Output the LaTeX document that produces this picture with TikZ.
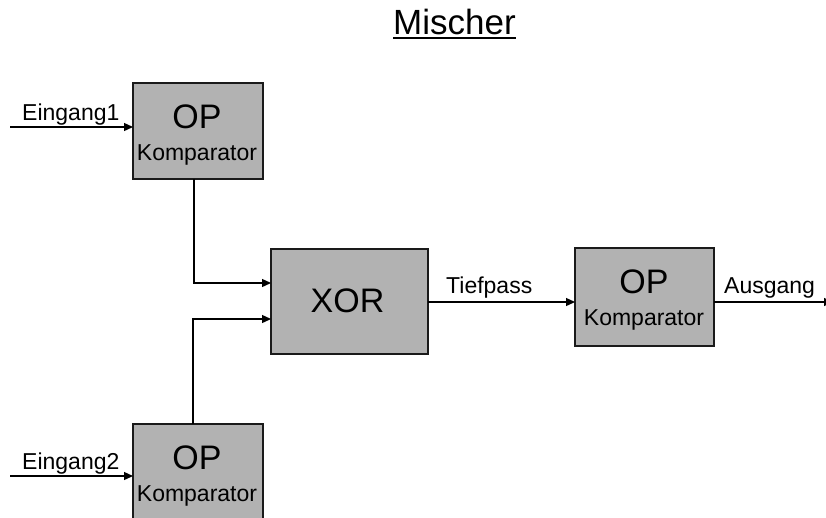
\documentclass[tikz,border=0pt]{standalone}
\usepackage{fontspec}
\setmainfont{Liberation Sans}
\usetikzlibrary{arrows.meta}
\definecolor{boxgray}{HTML}{B2B2B2}
\definecolor{edge}{HTML}{1A1A1A}
\begin{document}
\begin{tikzpicture}[x=1pt,y=-1pt,
  blk/.style={draw=edge, line width=1.6pt, fill=boxgray, inner sep=0pt, outer sep=0pt},
  big/.style={font=\fontsize{34}{36}\selectfont, inner sep=0pt, anchor=base},
  small/.style={font=\fontsize{23}{25}\selectfont, inner sep=0pt, anchor=base},
  arr/.style={line width=1.3pt, draw=black, -{Triangle[length=9pt,width=8pt]}},
  ttl/.style={font=\fontsize{35}{38}\selectfont, inner sep=0pt, anchor=base}]
\useasboundingbox (0,0) rectangle (826,517);
\clip (0,0) rectangle (826,517);
\fill[white] (0,0) rectangle (826,517);

% title
\node[ttl] (title) at (454.5,34) {Mischer};
\draw[line width=2pt] ([yshift=-4pt]title.base west) -- ([yshift=-4pt]title.base east);

% boxes
\node[blk, minimum width=130pt, minimum height=96pt] (op1) at (198,131) {};
\node[blk, minimum width=157pt, minimum height=105pt] (xor) at (349.5,301.5) {};
\node[blk, minimum width=139pt, minimum height=98pt] (op4) at (644.5,297) {};
\node[blk, minimum width=130pt, minimum height=96pt] (op2) at (198,472) {};

% box texts
\node[big] (op1a) at (197,128) {OP};
\node[small] (op1b) at (197,160) {Komparator};
\node[big] (xort) at (347.5,312) {XOR};
\node[big] (op4a) at (644,293) {OP};
\node[small] (op4b) at (644,325) {Komparator};
\node[big] (op2a) at (197,469) {OP};
\node[small] (op2b) at (197,501) {Komparator};

% labels
\node[small, anchor=base west] (e1) at (22,120) {Eingang1};
\node[small, anchor=base west] (e2) at (22,469) {Eingang2};
\node[small, anchor=base west] (tp) at (446,293) {Tiefpass};
\node[small, anchor=base west] (au) at (724,293) {Ausgang};

% connectors
\coordinate (in1) at (10,127);
\coordinate (in2) at (10,476);
\coordinate (c1) at (194,283);
\coordinate (c2) at (193,319);
\coordinate (c3) at (0,302);
\coordinate (out) at (833,302);
\draw[arr] (in1) -- (in1 -| op1.west);
\draw[arr] (in2) -- (in2 -| op2.west);
\draw[arr] (op1.south -| c1) |- (xor.west |- c1);
\draw[arr] (op2.north -| c2) |- (xor.west |- c2);
\draw[arr] (xor.east |- c3) -- (op4.west |- c3);
\draw[arr] (op4.east |- out) -- (out);
\end{tikzpicture}
\end{document}
